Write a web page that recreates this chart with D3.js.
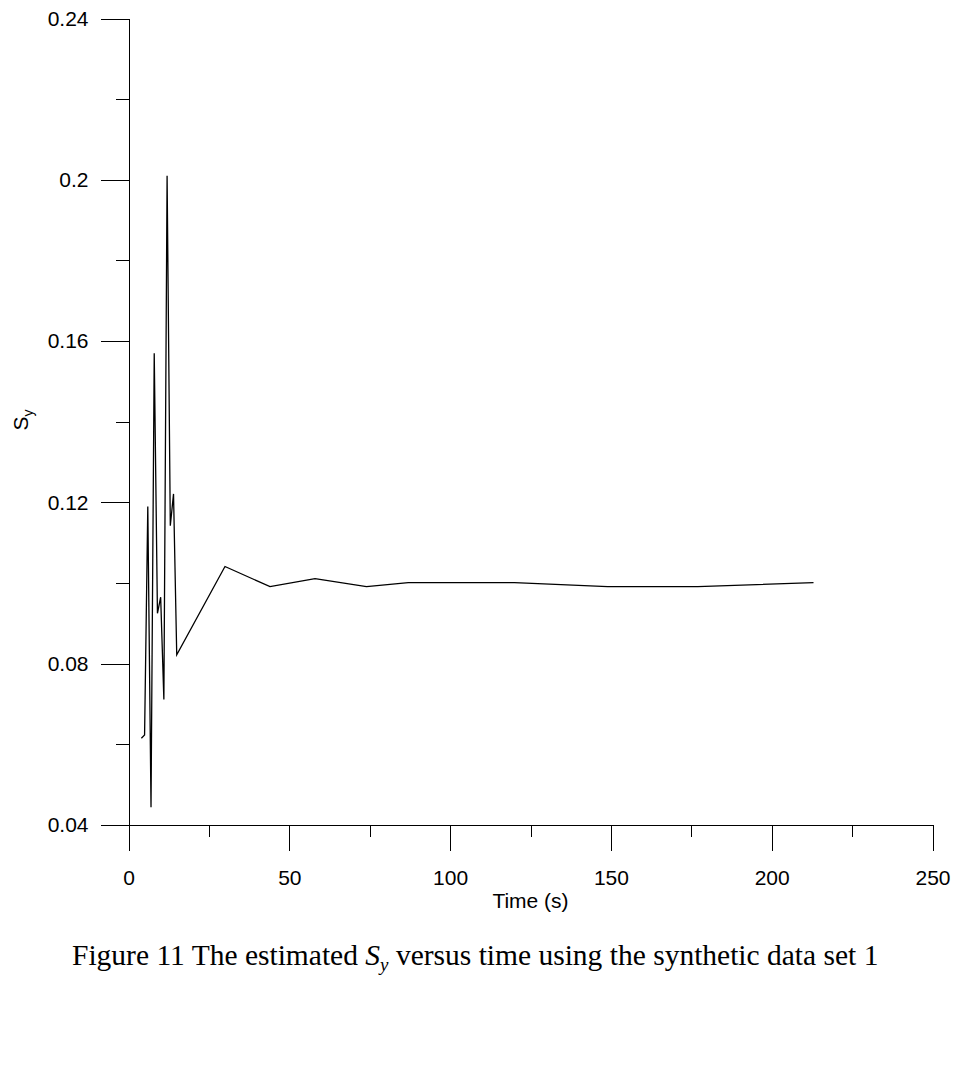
<!DOCTYPE html>
<html>
<head>
<meta charset="utf-8">
<script src="https://cdn.jsdelivr.net/npm/d3@7"></script>
<style>
  body { margin: 0; background: #fff; }
  svg { display: block; }
  .axis text { font-family: "Liberation Sans", Arial, sans-serif; font-size: 21px; fill: #000; }
  .axis path, .axis line { stroke: #000; shape-rendering: crispEdges; }
</style>
</head>
<body>
<div id="chart"></div>
<script>
    "use strict";

    // time (s) and estimated Sy
    var times = [4, 5, 6, 7, 8, 9, 10, 11, 12, 13, 14, 15,
                 30, 44, 58, 74, 87, 120, 149, 177, 213];
    var sy    = [0.0615, 0.0623, 0.119, 0.0444, 0.157, 0.0925, 0.0965, 0.0711, 0.201, 0.1142, 0.1221, 0.0822,
                 0.1041, 0.0991, 0.1011, 0.0991, 0.1001, 0.1001, 0.0991, 0.0991, 0.1001];

    var xMajor = [0, 50, 100, 150, 200, 250];
    var xMinor = [25, 75, 125, 175, 225];
    var yMajor = [0.04, 0.08, 0.12, 0.16, 0.2, 0.24];
    var yMinor = [0.06, 0.1, 0.14, 0.18, 0.22];

    var W = 958, H = 1089;

    var svg = d3.select("#chart")
                .append("svg")
                .attr("width", W)
                .attr("height", H);

    var x = d3.scaleLinear().domain([0, 250]).range([128.5, 932.5]);
    var y = d3.scaleLinear().domain([0.04, 0.24]).range([825, 18.5]);

    // #########################################################################
    // x axis, major + minor ticks
    svg.append("g")
       .attr("class", "axis")
       .attr("transform", "translate(0,825)")
       .call(d3.axisBottom(x).tickValues(xMajor).tickSize(26).tickPadding(19)
               .tickFormat(d3.format("d")));

    svg.append("g")
       .attr("class", "axis")
       .attr("transform", "translate(0,825)")
       .call(d3.axisBottom(x).tickValues(xMinor).tickSize(12).tickFormat(""))
       .select(".domain").remove();

    // y axis
    svg.append("g")
       .attr("class", "axis")
       .attr("transform", "translate(128.5,0)")
       .call(d3.axisLeft(y).tickValues(yMajor).tickSize(28).tickPadding(12)
               .tickFormat((d) => String(+d.toFixed(2))));

    svg.append("g")
       .attr("class", "axis")
       .attr("transform", "translate(128.5,0)")
       .call(d3.axisLeft(y).tickValues(yMinor).tickSize(13).tickFormat(""))
       .select(".domain").remove();

    // plain axis lines, no outer ticks
    svg.selectAll(".axis .domain").attr("d", function() {
        return d3.select(this).attr("d").replace(/V\d+(\.\d+)?H?[\d.]*$/, "");
    });
    // #########################################################################

    // the line
    var line = d3.line()
                 .x((d, i) => x(times[i]))
                 .y((d) => y(d));

    svg.append("path")
       .datum(sy)
       .attr("fill", "none")
       .attr("stroke", "#000")
       .attr("stroke-width", 1.3)
       .attr("stroke-linejoin", "miter")
       .attr("d", line);

    // axis titles
    svg.append("text")
       .attr("x", x(125))
       .attr("y", 908)
       .attr("text-anchor", "middle")
       .style("font-family", "Liberation Sans, Arial, sans-serif")
       .style("font-size", "21px")
       .text("Time (s)");

    var ylab = svg.append("text")
       .attr("transform", "translate(28,420) rotate(-90)")
       .attr("text-anchor", "middle")
       .style("font-family", "Liberation Sans, Arial, sans-serif")
       .style("font-size", "21px");
    ylab.append("tspan").text("S");
    ylab.append("tspan").attr("dy", 5).style("font-size", "14px").text("y");

    // caption
    var cap = svg.append("text")
       .attr("x", 72)
       .attr("y", 965)
       .style("font-family", "Liberation Serif, Times New Roman, serif")
       .style("font-size", "29.5px");
    cap.append("tspan").text("Figure 11 The estimated ");
    cap.append("tspan").style("font-style", "italic").text("S");
    cap.append("tspan").attr("dy", 6).style("font-style", "italic").style("font-size", "19px").text("y");
    cap.append("tspan").attr("dy", -6).text(" versus time using the synthetic data set 1");
</script>
</body>
</html>
